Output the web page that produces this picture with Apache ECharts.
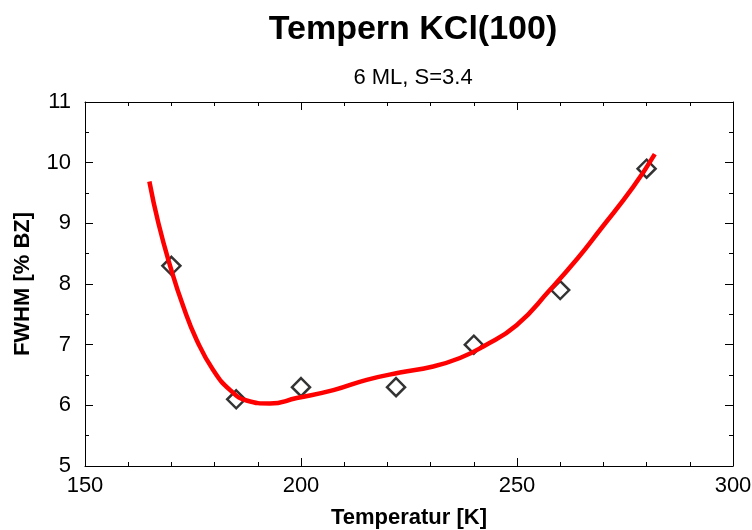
<!DOCTYPE html>
<html>
<head>
<meta charset="utf-8">
<script src="https://cdn.jsdelivr.net/npm/echarts@6/dist/echarts.min.js"></script>
<style>html,body{margin:0;padding:0;background:#fff}#c{width:752px;height:530px}</style>
</head>
<body>
<div id="c"></div>
<script>
// Measured points (Temperatur [K], FWHM [% BZ])
var measT = [170, 185, 200, 222, 240, 260, 280];
var measF = [8.3, 6.1, 6.3, 6.3, 7.0, 7.9, 9.9];
// Fitted curve
var fitT = [164.9, 167.0, 169.7, 172.8, 175.9, 179.7, 183.6, 187.4, 192.8, 199.0, 207.5, 215.2, 222.9, 230.6, 236.8, 242.2, 249.9, 257.6, 264.0, 269.2, 276.9, 281.9];
var fitF = [9.69, 9.00, 8.30, 7.62, 7.07, 6.58, 6.25, 6.08, 6.03, 6.12, 6.25, 6.42, 6.54, 6.64, 6.78, 6.97, 7.32, 7.90, 8.42, 8.89, 9.60, 10.14];
var xTicks = [150, 200, 250, 300];
var yTicks = [5, 6, 7, 8, 9, 10, 11];

function pairs(a, b) { return a.map(function (v, i) { return [v, b[i]]; }); }

var FONT = 'Liberation Sans, Arial, Helvetica, sans-serif';
var chart = echarts.init(document.getElementById('c'), null, {renderer: 'canvas'});
var axisCommon = {
  type: 'value',
  axisLine: {show: true, onZero: false, lineStyle: {color: '#000', width: 1}},
  axisTick: {show: true, inside: true, length: 8, lineStyle: {color: '#000', width: 1}},
  splitLine: {show: false},
  minorSplitLine: {show: false}
};
function ax(extra) { return Object.assign({}, JSON.parse(JSON.stringify(axisCommon)), extra); }

chart.setOption({
  animation: false,
  backgroundColor: '#fff',
  title: [
    {text: 'Tempern KCl(100)', left: 408, top: 8, textAlign: 'center',
     textStyle: {fontFamily: FONT, fontSize: 34, fontWeight: 'bold', color: '#000'}},
    {text: '6 ML, S=3.4', left: 408, top: 62, textAlign: 'center',
     textStyle: {fontFamily: FONT, fontSize: 22, fontWeight: 'normal', color: '#000'}}
  ],
  grid: {left: 85, right: 19, top: 102, bottom: 64, containLabel: false, outerBoundsMode: 'none'},
  xAxis: [
    ax({min: xTicks[0], max: xTicks[xTicks.length - 1], interval: 50, position: 'bottom',
      minorTick: {show: true, splitNumber: 5, length: 4, lineStyle: {color: '#000', width: 1}},
      name: 'Temperatur [K]', nameLocation: 'middle', nameGap: 41,
      nameTextStyle: {fontFamily: FONT, fontSize: 22, fontWeight: 'bold', color: '#000'},
      axisLabel: {margin: 9, fontFamily: FONT, fontSize: 22, color: '#000'}}),
    ax({min: xTicks[0], max: xTicks[xTicks.length - 1], interval: 50, position: 'top',
      minorTick: {show: true, splitNumber: 5, length: 4, lineStyle: {color: '#000', width: 1}},
      axisLabel: {show: false}})
  ],
  yAxis: [
    ax({min: yTicks[0], max: yTicks[yTicks.length - 1], interval: 1, position: 'left',
      minorTick: {show: true, splitNumber: 2, length: 4, lineStyle: {color: '#000', width: 1}},
      name: 'FWHM [% BZ]', nameLocation: 'middle', nameGap: 51, nameRotate: 90,
      nameTextStyle: {fontFamily: FONT, fontSize: 22, fontWeight: 'bold', color: '#000'},
      axisLabel: {margin: 14, fontFamily: FONT, fontSize: 22, color: '#000'}}),
    ax({min: yTicks[0], max: yTicks[yTicks.length - 1], interval: 1, position: 'right',
      minorTick: {show: true, splitNumber: 2, length: 4, lineStyle: {color: '#000', width: 1}},
      axisLabel: {show: false}})
  ],
  series: [
    {type: 'scatter', xAxisIndex: 0, yAxisIndex: 0, data: pairs(measT, measF),
     symbol: 'diamond', symbolSize: 18, z: 2,
     itemStyle: {color: '#fff', borderColor: '#000', borderWidth: 2.5}},
    {type: 'line', xAxisIndex: 0, yAxisIndex: 0, data: pairs(fitT, fitF),
     smooth: true, showSymbol: false, symbol: 'none', z: 3,
     lineStyle: {color: '#ff0000', width: 4.5}}
  ]
});
</script>
</body>
</html>
